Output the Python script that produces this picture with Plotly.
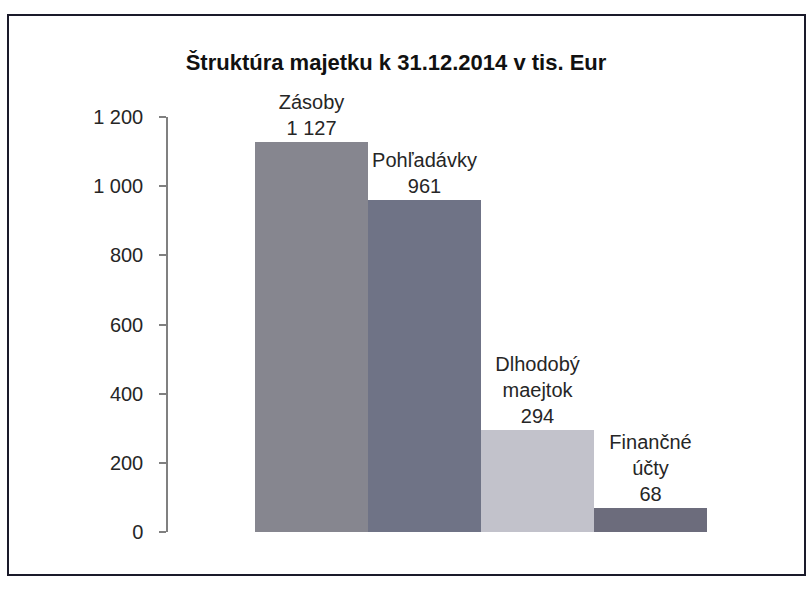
import plotly.graph_objects as go

categories = ["Zásoby", "Pohľadávky", "Dlhodobý maejtok", "Finančné účty"]
label_lines = ["Zásoby", "Pohľadávky", "Dlhodobý<br>maejtok", "Finančné<br>účty"]
values = [1127, 961, 294, 68]
colors = ["#86868f", "#6f7386", "#c2c2cb", "#6c6c7c"]
tick_vals = [0, 200, 400, 600, 800, 1000, 1200]
tick_text = ["0", "200", "400", "600", "800", "1 000", "1 200"]

def fmt(v):
    return f"{v:,}".replace(",", " ")

texts = [f"{l}<br>{fmt(v)}" for l, v in zip(label_lines, values)]

L, R, T, B = 168, 15, 117, 57
W, H = 809, 589
pw, ph = W - L - R, H - T - B

fig = go.Figure()
fig.add_trace(go.Bar(
    x=categories, y=values,
    marker=dict(color=colors, line=dict(width=0)),
    text=texts, textposition="outside", cliponaxis=False,
    constraintext="none",
    textfont=dict(family="Liberation Sans, Arial, sans-serif", size=20, color="#262626"),
    hoverinfo="skip",
))

fig.update_layout(
    width=W, height=H,
    margin=dict(l=L, r=R, t=T, b=B),
    paper_bgcolor="white", plot_bgcolor="white",
    bargap=0,
    showlegend=False,
    title=dict(
        text="<b>Štruktúra majetku k 31.12.2014 v tis. Eur</b>",
        x=396/W, xref="container", xanchor="center",
        y=1-62/H, yref="container", yanchor="middle",
        font=dict(family="Liberation Sans, Arial, sans-serif", size=22, color="#111"),
    ),
    font=dict(family="Liberation Sans, Arial, sans-serif", size=20, color="#262626"),
)

fig.update_xaxes(
    range=[-1.27, 4.27],
    showline=False, showticklabels=False, ticks="", showgrid=False, zeroline=False,
)
fig.update_yaxes(
    range=[0, 1200], tickvals=tick_vals, ticktext=tick_text,
    showline=True, linecolor="#808080", linewidth=1.5,
    ticks="outside", ticklen=7, tickcolor="#808080", tickwidth=1.5,
    showgrid=False, zeroline=False, ticklabelstandoff=12,
    tickfont=dict(family="Liberation Sans, Arial, sans-serif", size=20, color="#262626"),
)

# frame around the chart
fig.add_shape(type="rect", xref="paper", yref="paper",
              x0=(8-L)/pw, x1=(805-L)/pw,
              y0=(H-B-575)/ph, y1=(H-B-15)/ph,
              line=dict(color="#1a1a2a", width=2), fillcolor="rgba(0,0,0,0)", layer="below")

fig.write_html("out.html", config={"displayModeBar": False},
               post_script="document.body.style.margin='0';")
